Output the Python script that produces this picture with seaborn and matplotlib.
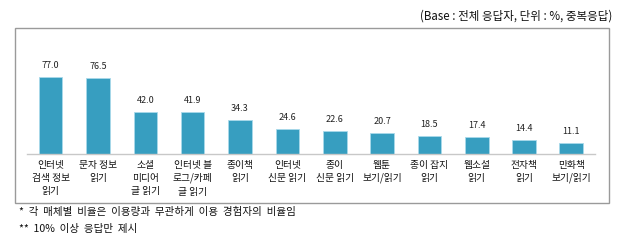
import matplotlib
matplotlib.use("Agg")
import matplotlib.pyplot as plt
import seaborn as sns
import pandas as pd
from matplotlib.patches import Rectangle

categories = [
    "인터넷\n검색 정보\n읽기", "문자 정보\n읽기", "소셜\n미디어\n글 읽기", "인터넷 블\n로그/카페\n글 읽기",
    "종이책\n읽기", "인터넷\n신문 읽기", "종이\n신문 읽기", "웹툰\n보기/읽기",
    "종이 잡지\n읽기", "웹소설\n읽기", "전자책\n읽기", "만화책\n보기/읽기",
]
values = [77.0, 76.5, 42.0, 41.9, 34.3, 24.6, 22.6, 20.7, 18.5, 17.4, 14.4, 11.1]
header = "(Base : 전체 응답자, 단위 : %, 중복응답)"
notes = ["*  각  매체별  비율은  이용량과  무관하게  이용  경험자의  비율임", "**  10%  이상  응답만  제시"]

sns.set_theme(style="white")
plt.rcParams['font.family'] = ['Noto Sans CJK KR', 'DejaVu Sans']

W, H = 624, 241
fig = plt.figure(figsize=(W / 100, H / 100), dpi=100)

def fx(px):
    return px / W

def fy(py):
    return 1 - py / H

# outer box
fig.patches.append(Rectangle((fx(15), fy(203)), fx(609) - fx(15), fy(28) - fy(203),
                             transform=fig.transFigure, fill=False, edgecolor="#9a9a9a", lw=1.0))

ax_left, ax_right, ax_top, ax_bottom = 27, 595, 40, 154
ax = fig.add_axes([fx(ax_left), fy(ax_bottom), fx(ax_right) - fx(ax_left), fy(ax_top) - fy(ax_bottom)])
df = pd.DataFrame({"cat": categories, "val": values})
sns.barplot(data=df, x="cat", y="val", color="#379EC0", saturation=1, width=0.5,
            edgecolor="#a9d9ea", linewidth=0.6, ax=ax)
ax.set_xlim(-0.5, 11.5)
ax.set_ylim(0, ax_bottom - ax_top)
ax.set_xlabel("")
ax.set_ylabel("")
ax.set_yticks([])
for s in ["left", "right", "top"]:
    ax.spines[s].set_visible(False)
ax.spines["bottom"].set_color("#c8c8c8")
ax.spines["bottom"].set_linewidth(1.0)
ax.tick_params(axis="x", length=0, pad=4, labelsize=7, colors="#111111")
for lab in ax.get_xticklabels():
    lab.set_linespacing(1.42)
for i, v in enumerate(values):
    ax.annotate(f"{v:.1f}", (i, v), xytext=(0, 5), textcoords="offset points",
                ha="center", va="bottom", fontsize=6.5, color="#222222")

fig.text(fx(612), fy(16), header, ha="right", va="center", fontsize=8.3, color="#111111")
fig.text(fx(19), fy(212), notes[0], ha="left", va="center", fontsize=7.6, color="#111111")
fig.text(fx(19), fy(229), notes[1], ha="left", va="center", fontsize=7.6, color="#111111")

fig.savefig("out.png", dpi=100)
